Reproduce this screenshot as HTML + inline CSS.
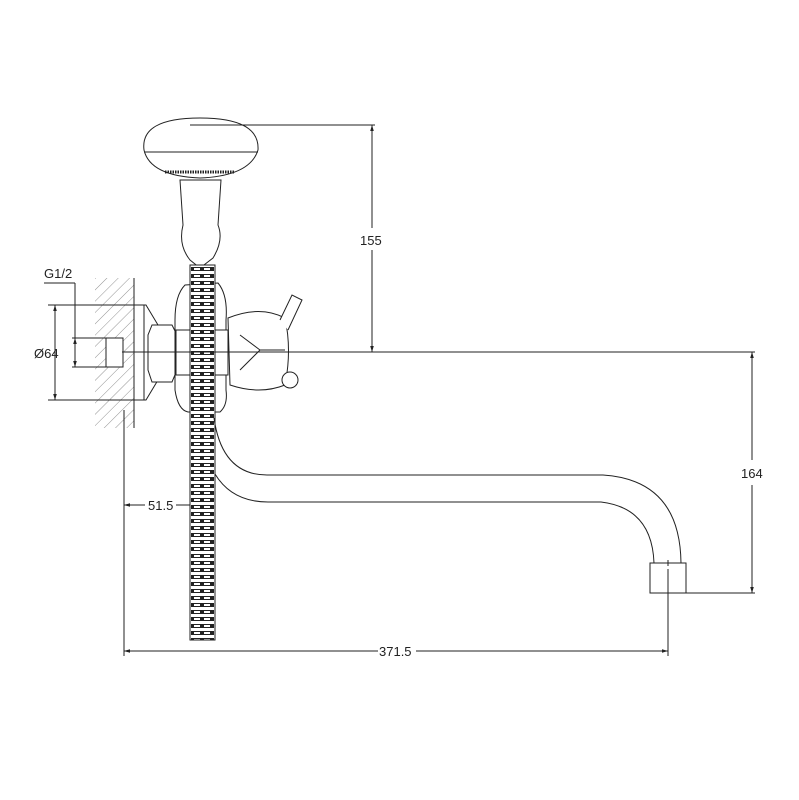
<!DOCTYPE html>
<html><head><meta charset="utf-8"><style>
body{margin:0;background:#fff}
svg{display:block}
text{font-family:"Liberation Sans",sans-serif;font-size:13px;fill:#222}
</style></head><body>
<svg width="799" height="800" viewBox="0 0 799 800" xmlns="http://www.w3.org/2000/svg">
<defs>
<pattern id="h" width="8" height="8" patternUnits="userSpaceOnUse" patternTransform="rotate(45)">
<line x1="0" y1="0" x2="0" y2="8" stroke="#777" stroke-width="0.8"/></pattern>
<pattern id="hose" width="25" height="7" patternUnits="userSpaceOnUse" x="190" y="0">
<rect width="25" height="7" fill="#fff"/>
<rect x="1" y="1" width="23" height="4" fill="#222"/>
<rect x="4" y="2" width="6" height="2" fill="#fff"/><rect x="14" y="2" width="6" height="2" fill="#fff"/>
</pattern>
<marker id="a" viewBox="0 0 10 10" refX="10" refY="5" markerWidth="6" markerHeight="6" orient="auto-start-reverse"><path d="M0,2L10,5L0,8z" fill="#222"/></marker>
</defs>
<g fill="none" stroke="#222" stroke-width="1">
<rect x="95" y="278" width="39" height="150" fill="url(#h)" stroke="none"/>
<line x1="134" y1="278" x2="134" y2="428"/>
<rect x="106" y="338" width="17" height="29" fill="#fff"/>
<path d="M134 305H146L158 325V380L146 400H134Z" fill="#fff"/>
<line x1="144" y1="305" x2="144" y2="400"/>
<path d="M152 325H172L177 335V370L172 382H152L148 370V335Z" fill="#fff"/>
<line x1="149" y1="352" x2="176" y2="352"/>
<path d="M185 285Q175 295 175 320V390Q178 410 188 412H220Q228 405 226 390V320Q228 295 218 283Z" fill="#fff"/>
<rect x="176" y="330" width="52" height="45" fill="#fff"/>
<path d="M228 318Q260 305 285 318Q292 350 285 385Q260 395 230 385Z" fill="#fff"/>
<path d="M240 335L260 350L240 370M260 350H285"/>
<path d="M280 320L292 295L302 300L288 330" fill="#fff"/>
<circle cx="290" cy="380" r="8" fill="#fff"/>
<path d="M180 180L183 225Q178 245 190 260L200 268L213 258Q224 240 218 225L221 180Z" fill="#fff"/>
<path d="M144 150Q140 118 200 118Q260 118 258 150Q250 176 200 178Q150 176 144 150Z" fill="#fff"/>
<line x1="144" y1="152" x2="258" y2="152"/>
<line x1="165" y1="172" x2="235" y2="172" stroke-width="3" stroke-dasharray="1.5 1"/>
<rect x="190" y="265" width="25" height="375" fill="url(#hose)" stroke="#222"/>
<!-- spout -->
<path d="M214 418Q222 475 267 475H603Q680 480 681 563"/>
<path d="M215 474Q232 502 268 502H601Q652 508 654 563"/>
<rect x="650" y="563" width="36" height="30" fill="#fff"/>
<line x1="668" y1="560" x2="668" y2="600" stroke-dasharray="6 3"/>
<line x1="190" y1="125" x2="375" y2="125"/>
<line x1="372" y1="125" x2="372" y2="228" marker-start="url(#a)"/>
<line x1="372" y1="250" x2="372" y2="352" marker-end="url(#a)"/>
<line x1="122" y1="352" x2="755" y2="352"/>
<line x1="752" y1="352" x2="752" y2="460" marker-start="url(#a)"/>
<line x1="752" y1="485" x2="752" y2="593" marker-end="url(#a)"/>
<line x1="686" y1="593" x2="755" y2="593"/>
<line x1="124" y1="410" x2="124" y2="656"/>
<line x1="668" y1="570" x2="668" y2="656"/>
<line x1="124" y1="651" x2="378" y2="651" marker-start="url(#a)"/>
<line x1="416" y1="651" x2="668" y2="651" marker-end="url(#a)"/>
<line x1="124" y1="505" x2="145" y2="505" marker-start="url(#a)"/>
<line x1="176" y1="505" x2="190" y2="505"/>
<line x1="44" y1="283" x2="75" y2="283"/>
<line x1="75" y1="283" x2="75" y2="338"/>
<line x1="48" y1="305" x2="134" y2="305"/>
<line x1="48" y1="400" x2="134" y2="400"/>
<line x1="55" y1="305" x2="55" y2="400" marker-start="url(#a)" marker-end="url(#a)"/>
<line x1="72" y1="338" x2="106" y2="338"/>
<line x1="72" y1="367" x2="106" y2="367"/>
<line x1="75" y1="338" x2="75" y2="367" marker-start="url(#a)" marker-end="url(#a)"/>
</g>
<text x="360" y="245">155</text>
<text x="741" y="478">164</text>
<text x="379" y="656">371.5</text>
<text x="148" y="510">51.5</text>
<text x="44" y="278">G1/2</text>
<text x="34" y="358">Ø64</text>
</svg>
</body></html>
